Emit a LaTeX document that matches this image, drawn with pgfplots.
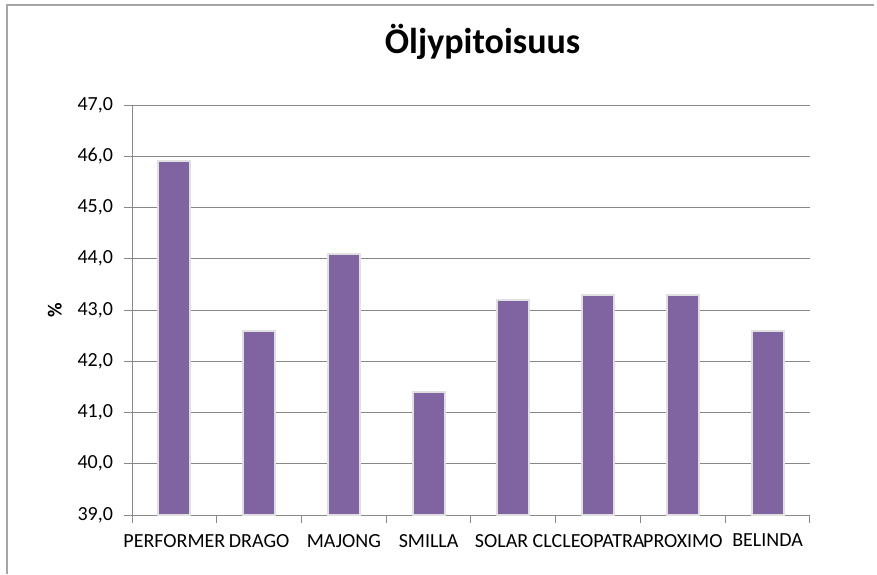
\documentclass[border=0pt]{standalone}
\usepackage{pgfplots}
\pgfplotsset{compat=1.18}
\usepackage{fontspec}
\setmainfont{Carlito}
\definecolor{barc}{HTML}{8064A2}
\definecolor{gridc}{HTML}{888888}
\definecolor{framec}{HTML}{A6A6A6}
\begin{document}
\begin{tikzpicture}
\path[use as bounding box] (0,0) rectangle (438.5pt,287pt);
\draw[framec, line width=1pt] (3.5pt,0) -- (3.5pt,284.5pt) -- (437pt,284.5pt);
\begin{axis}[
  at={(66pt,29.5pt)}, anchor=south west,
  scale only axis, width=339pt, height=205pt,
  xmin=0.5, xmax=8.5, ymin=39, ymax=47,
  ytick={39,40,...,47},
  xtick={1,...,8},
  xticklabels={PERFORMER,DRAGO,MAJONG,SMILLA,SOLAR CL,CLEOPATRA,PROXIMO,BELINDA},
  minor xtick={0.5,1.5,...,8.5},
  major x tick style={draw=none},
  tick align=outside,
  minor tick length=4pt, major tick length=4pt,
  every tick/.style={gridc, line width=0.5pt},
  ymajorgrids, grid style={gridc, line width=0.5pt},
  axis line style={gridc, line width=0.5pt},
  axis x line*=bottom, axis y line*=left,
  separate axis lines,
  tick label style={font=\fontsize{10}{12}\selectfont, text=black},
  xticklabel style={inner xsep=0pt, yshift=-2pt},
  yticklabel style={xshift=-2pt},
  /pgf/number format/.cd, fixed, fixed zerofill, precision=1, use comma, assume math mode=true,
  /pgfplots/.cd,
  ylabel={\%}, ylabel style={font=\bfseries\fontsize{10}{12}\selectfont, at={(axis description cs:-0.114,0.5)}, anchor=center},
  title={Öljypitoisuus},
  title style={font=\bfseries\fontsize{18}{21}\selectfont, at={(axis description cs:0.517,1)}, anchor=base, yshift=20pt},
  clip=false,
]
\addplot[ybar, bar width=16pt, fill=barc, draw=black!12, line width=1pt] coordinates {
  (1,45.9) (2,42.6) (3,44.1) (4,41.4) (5,43.2) (6,43.3) (7,43.3) (8,42.6)
};
\end{axis}
\end{tikzpicture}
\end{document}
